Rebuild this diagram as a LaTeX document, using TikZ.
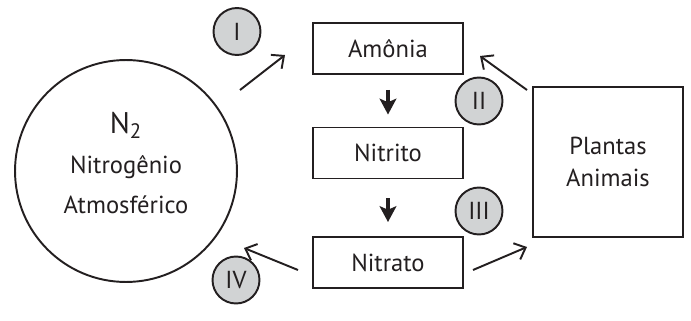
\documentclass[tikz,border=0pt]{standalone}
\usepackage{fontspec}
\setmainfont{PT Sans}
\usetikzlibrary{arrows.meta}
\usetikzlibrary{positioning}

\definecolor{inkblack}{HTML}{231F20}
\definecolor{stagegray}{HTML}{D1D3D4}

\begin{document}
\begin{tikzpicture}[x=0.02cm, y=-0.02cm,
        every node/.style={font=\fontsize{14}{18}\selectfont, text=inkblack},
        pool/.style={shape=rectangle, draw=inkblack, line width=1.1pt, minimum width=3cm, minimum height=1.02cm},
        stage/.style={shape=circle, draw=inkblack, line width=1.1pt, fill=stagegray, minimum size=0.94cm, inner sep=0pt},
        flow/.style={draw=inkblack, line width=1.1pt, -{Straight Barb[length=5.5pt,width=10pt]}},
        conv/.style={draw=inkblack, line width=2.2pt, -{Stealth[length=9pt,width=9.5pt,inset=2pt]}}]
        \useasboundingbox (0,0) rectangle (691,321);

        % atmosphere
        \node (atm) at (126,171) [shape=circle, draw=inkblack, line width=1.1pt, minimum size=4.44cm] {};
        \node (atmtxt) at (126,163) [align=center, font=\fontsize{14}{22.7}\selectfont] {{\fontsize{17}{22.7}\selectfont N\textsubscript{2}}\\Nitrogênio\\Atmosférico};

        % compounds
        \node (amonia) at (388,48.5) [pool] {Amônia};
        \node (nitrito) at (388,153) [pool] {Nitrito};
        \node (nitrato) at (388,262.5) [pool] {Nitrato};

        % living beings
        \node (seres) at (608,162) [pool, minimum height=3cm, align=center] {Plantas\\Animais};

        % stages
        \node (s1) at (237,31.5) [stage] {I};
        \node (s2) at (479,101) [stage] {II};
        \node (s3) at (479,211) [stage] {III};
        \node (s4) at (236,280) [stage] {IV};

        % free arrow ends
        \coordinate (fix0) at (240,90);
        \coordinate (fix1) at (285,55);
        \coordinate (ret0) at (298,270);
        \coordinate (ret1) at (244,248);
        \coordinate (up0) at (473,270);
        \coordinate (up1) at (527,247);
        \coordinate (dec0) at (527,90);
        \coordinate (dec1) at (480,56);

        % connections
        \draw[flow] (fix0) -- (fix1);
        \draw[flow] (ret0) -- (ret1);
        \draw[flow] (up0) -- (up1);
        \draw[flow] (dec0) -- (dec1);
        \draw[conv, shorten <=0.3cm, shorten >=0.24cm] (amonia) -- (nitrito);
        \draw[conv, shorten <=0.38cm, shorten >=0.28cm] (nitrito) -- (nitrato);
    \end{tikzpicture}
\end{document}
